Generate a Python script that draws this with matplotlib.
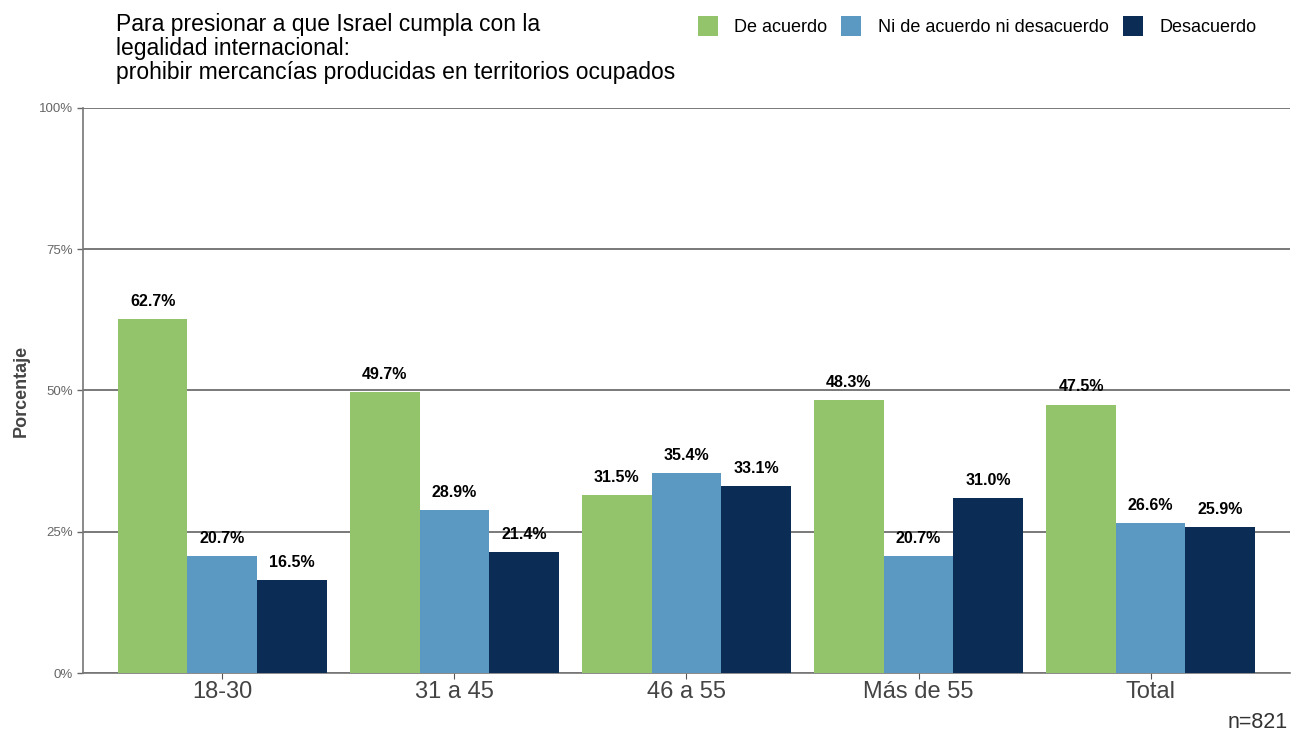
import numpy as np
import matplotlib.pyplot as plt
from matplotlib.patches import Patch

plt.rcParams['font.family'] = ['Liberation Sans', 'DejaVu Sans']

grupos = ["18-30", "31 a 45", "46 a 55", "Más de 55", "Total"]
series = ["De acuerdo", "Ni de acuerdo ni desacuerdo", "Desacuerdo"]
de_acuerdo = [62.7, 49.7, 31.5, 48.3, 47.5]
ni_ni = [20.7, 28.9, 35.4, 20.7, 26.6]
desacuerdo = [16.5, 21.4, 33.1, 31.0, 25.9]
colores = ["#93c36a", "#5b98c2", "#0b2c54"]

fig = plt.figure(figsize=(13.01, 7.37), dpi=100)
ax = fig.add_axes([0.0638, 0.0868, 0.9277, 0.7667])

x = np.arange(len(grupos))
w = 0.3
for i, vals in enumerate([de_acuerdo, ni_ni, desacuerdo]):
    pos = x + (i - 1) * w
    ax.bar(pos, vals, width=w, color=colores[i], zorder=3)
    for p, v in zip(pos, vals):
        ax.text(p, v + 1.8, f"{v:.1f}%", ha='center', va='bottom',
                fontsize=11.5, fontweight='bold', color='black', zorder=4)

ax.set_xlim(-0.6, 4.6)
ax.set_ylim(0, 100)
ax.set_yticks([0, 25, 50, 75, 100])
ax.set_yticklabels(["0%", "25%", "50%", "75%", "100%"])
ax.set_xticks(x)
ax.set_xticklabels(grupos)
ax.yaxis.grid(True, color='#555555', linewidth=1.1, zorder=0)
ax.tick_params(axis='y', labelsize=9.5, colors='#666666', length=4, width=1)
ax.tick_params(axis='x', labelsize=17, labelcolor='#444444', color='#555555', length=4, pad=2)
for s in ['top', 'right']:
    ax.spines[s].set_visible(False)
for s in ['left', 'bottom']:
    ax.spines[s].set_color('#777777')
    ax.spines[s].set_linewidth(1.2)
ax.set_ylabel("Porcentaje", fontsize=13, fontweight='bold', color='#444444', labelpad=6)

fig.text(0.089, 0.982, "Para presionar a que Israel cumpla con la\nlegalidad internacional:\nprohibir mercancías producidas en territorios ocupados",
         ha='left', va='top', fontsize=16.5, linespacing=1.05, color='black')

handles = [Patch(facecolor=c, edgecolor='none') for c in colores]
fig.legend(handles, series, loc='upper right', bbox_to_anchor=(0.978, 1.0), ncol=3,
           frameon=False, fontsize=13, handlelength=1.1, handleheight=1.3,
           handletextpad=0.9, columnspacing=0.8)

fig.text(0.99, 0.005, "n=821", ha='right', va='bottom', fontsize=15.5, color='#333333')

fig.savefig("out.png", dpi=100)
